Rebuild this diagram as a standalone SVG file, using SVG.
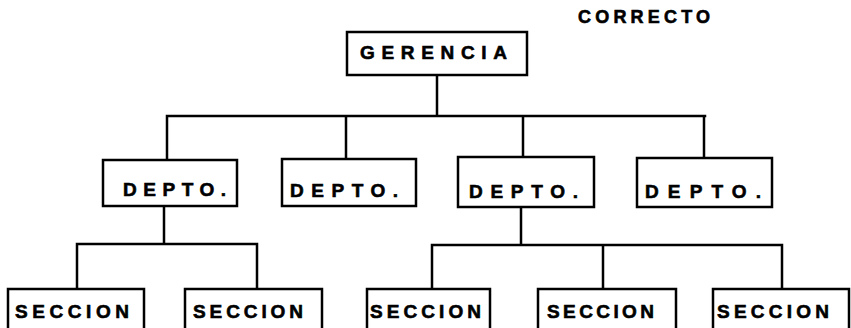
<svg xmlns="http://www.w3.org/2000/svg" width="851" height="328" viewBox="0 0 851 328">
<style>
.box{fill:#fff;stroke:#000;stroke-width:2.5}
.lbl{font-family:"Liberation Sans",Arial,sans-serif;font-weight:bold;font-size:19px;fill:#000;stroke:#000;stroke-width:0.6}
.con{fill:none;stroke:#000;stroke-width:2.5;stroke-linecap:square}
</style>
<rect width="851" height="328" fill="#fff"/>
<text class="lbl" x="578" y="23" textLength="132" lengthAdjust="spacing" style="font-size:18px">CORRECTO</text>
<g id="connectors">
<path class="con" d="M437 75V116M167 116H705M167 116V160M346 116V159M523 116V157M704 116V158"/>
<path class="con" d="M164 206V244M77 244H257M77 244V289M257 244V289"/>
<path class="con" d="M521 207V245M432 245H782M432 245V289M603 245V289M782 245V289"/>
</g>
<g id="gerencia"><rect class="box" x="347" y="32" width="180" height="43"/><text class="lbl" x="360" y="59" textLength="147" lengthAdjust="spacing">GERENCIA</text></g>
<g id="depto1"><rect class="box" x="103" y="160" width="134" height="46"/><text class="lbl" x="123" y="196" textLength="103" lengthAdjust="spacing">DEPTO.</text></g>
<g id="depto2"><rect class="box" x="282" y="159" width="134" height="47"/><text class="lbl" x="290" y="197" textLength="108" lengthAdjust="spacing">DEPTO.</text></g>
<g id="depto3"><rect class="box" x="458" y="157" width="136" height="50"/><text class="lbl" x="469" y="198" textLength="109" lengthAdjust="spacing">DEPTO.</text></g>
<g id="depto4"><rect class="box" x="637" y="158" width="135" height="49"/><text class="lbl" x="645" y="198" textLength="116" lengthAdjust="spacing">DEPTO.</text></g>
<g id="seccion1"><rect class="box" x="8" y="289" width="136" height="42"/><text class="lbl" x="15" y="318" textLength="114" lengthAdjust="spacing">SECCION</text></g>
<g id="seccion2"><rect class="box" x="185" y="289" width="137" height="42"/><text class="lbl" x="193" y="318" textLength="110" lengthAdjust="spacing">SECCION</text></g>
<g id="seccion3"><rect class="box" x="367" y="289" width="123" height="42"/><text class="lbl" x="370" y="318" textLength="111" lengthAdjust="spacing">SECCION</text></g>
<g id="seccion4"><rect class="box" x="538" y="289" width="138" height="42"/><text class="lbl" x="547" y="318" textLength="107" lengthAdjust="spacing">SECCION</text></g>
<g id="seccion5"><rect class="box" x="713" y="289" width="136" height="42"/><text class="lbl" x="717" y="318" textLength="112" lengthAdjust="spacing">SECCION</text></g>
</svg>
